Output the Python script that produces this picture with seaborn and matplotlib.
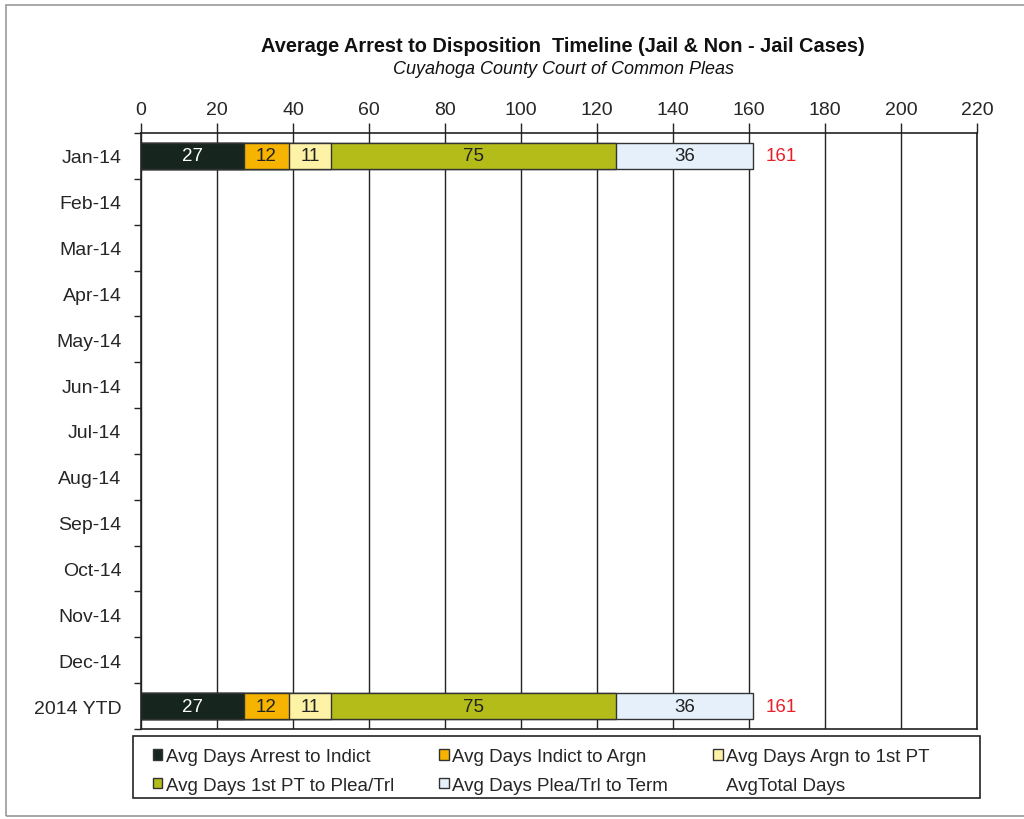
import matplotlib
matplotlib.use("Agg")
import matplotlib.pyplot as plt
import numpy as np
import pandas as pd
import seaborn as sns
from matplotlib.patches import Patch, Rectangle

sns.set_style("white")
plt.rcParams["font.family"] = ["Liberation Sans", "DejaVu Sans"]

all_periods = ["Jan-14", "Feb-14", "Mar-14", "Apr-14", "May-14", "Jun-14", "Jul-14",
               "Aug-14", "Sep-14", "Oct-14", "Nov-14", "Dec-14", "2014 YTD"]
periods = ["Jan-14", "2014 YTD"]
arrest_to_indict = [27, 27]
indict_to_argn = [12, 12]
argn_to_1st_pt = [11, 11]
pt_to_plea = [75, 75]
plea_to_term = [36, 36]
total_days = [161, 161]

segments = [
    ("Avg Days Arrest to Indict", arrest_to_indict, "#16261f", "white"),
    ("Avg Days Indict to Argn", indict_to_argn, "#f6b400", "#222222"),
    ("Avg Days Argn to 1st PT", argn_to_1st_pt, "#fdf2a6", "#222222"),
    ("Avg Days 1st PT to Plea/Trl", pt_to_plea, "#b3bc19", "#222222"),
    ("Avg Days Plea/Trl to Term", plea_to_term, "#e5f0fa", "#222222"),
]

df = pd.DataFrame({"period": periods})
for name, vals, _, _ in segments:
    df[name] = vals
names = [s[0] for s in segments]
cum = df[names].cumsum(axis=1)
cum["period"] = periods

fig = plt.figure(figsize=(10.24, 8.2), dpi=100)
ax = fig.add_axes([141 / 1024, 1 - 730 / 820, 836 / 1024, 596 / 820])

# stacked bars: draw cumulative totals from the longest down
for name, _, color, _ in reversed(segments):
    sns.barplot(data=cum, x=name, y="period", order=all_periods, color=color,
                edgecolor="#333333", linewidth=1, width=0.57, errorbar=None,
                saturation=1, ax=ax)

for i, p in enumerate(periods):
    pos = all_periods.index(p)
    left = 0
    for name, vals, _, tcolor in segments:
        ax.text(left + vals[i] / 2, pos, str(vals[i]), ha="center", va="center",
                fontsize=13.5, color=tcolor)
        left += vals[i]
    ax.annotate(str(total_days[i]), (total_days[i], pos), xytext=(9, 0),
                textcoords="offset points", ha="left", va="center",
                fontsize=13.5, color="#e8202a")

ax.set_xlim(0, 220)
ax.set_ylim(12.5, -0.5)
ax.set_xticks(np.arange(0, 221, 20))
ax.xaxis.tick_top()
ax.tick_params(axis="x", top=True, bottom=False, direction="out", length=7,
               width=1, color="#222222", labelsize=14, pad=4)
ax.tick_params(axis="y", which="major", length=0, labelsize=14, pad=14)
ax.set_yticks(np.arange(-0.5, 13, 1), minor=True)
ax.tick_params(axis="y", which="minor", left=True, length=5, width=1, color="#222222")
ax.grid(axis="x", color="#222222", linewidth=1)
ax.set_axisbelow(True)
ax.set_xlabel("")
ax.set_ylabel("")
for sp in ax.spines.values():
    sp.set_visible(True)
    sp.set_color("#222222")
    sp.set_linewidth(1.2)

fig.text(0.55, 1 - 47 / 820, "Average Arrest to Disposition  Timeline (Jail & Non - Jail Cases)",
         ha="center", va="center", fontsize=14.4, fontweight="bold", color="#111111")
fig.text(0.55, 1 - 70 / 820, "Cuyahoga County Court of Common Pleas",
         ha="center", va="center", fontsize=13, style="italic", color="#111111")

handles = [Patch(facecolor=c, edgecolor="#333333", label=n) for n, _, c, _ in segments]
handles.append(Patch(facecolor="none", edgecolor="none", label="AvgTotal Days"))
# legend fills column-first; reorder so rows read like the original
order = [0, 3, 1, 4, 2, 5]
fig.legend([handles[k] for k in order], [handles[k].get_label() for k in order],
           loc="upper left", bbox_to_anchor=(153 / 1024, 1 - 749 / 820),
           ncol=3, fontsize=13.5, frameon=False,
           handlelength=0.5, handleheight=0.5, handletextpad=0.2,
           labelspacing=0.62, columnspacing=2.4, borderaxespad=0, borderpad=0)
fig.add_artist(Rectangle((133 / 1024, 1 - 799 / 820), 847 / 1024, 62 / 820,
                         transform=fig.transFigure, fill=False,
                         edgecolor="#222222", linewidth=1.2))

# outer chart frame (right edge sits past the picture, as in the scan)
fig.add_artist(Rectangle((6 / 1024, 3 / 820), 1030 / 1024, 811 / 820,
                         transform=fig.transFigure, fill=False,
                         edgecolor="#9a9a9a", linewidth=1.2))

fig.savefig("out.png", dpi=100)
